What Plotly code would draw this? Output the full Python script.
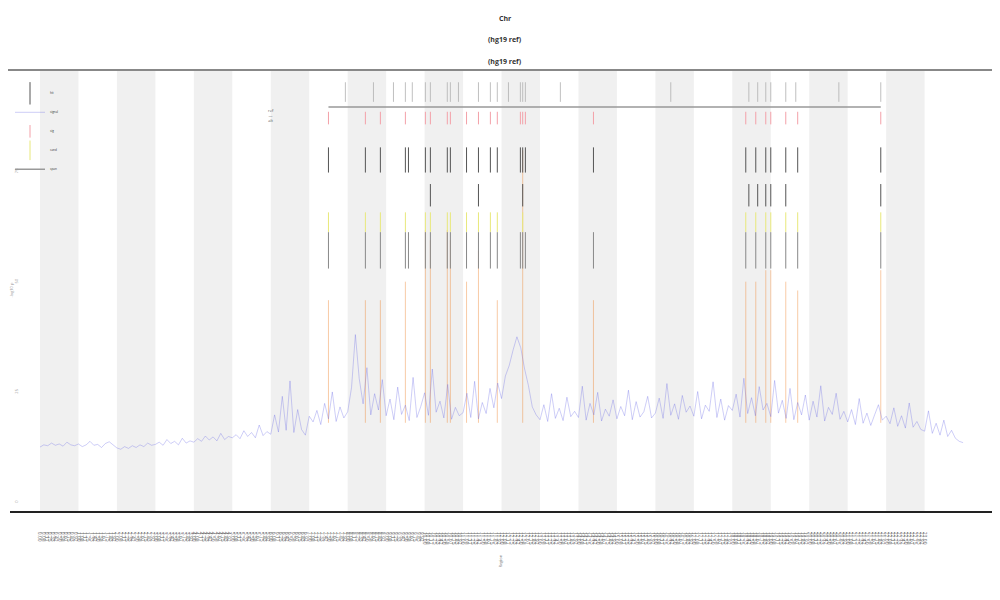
import plotly.graph_objects as go

# segment boundaries (24 segments, alternating shading on even ones)
segments = list(range(24))

# blue signal, sampled every 0.1 segment from 0 to 24
signal = [
    12.5, 13.0, 12.8, 13.4, 12.9, 13.2, 12.7, 13.6, 13.0, 12.8,
    13.2, 12.6, 13.0, 13.8, 12.9, 13.1, 12.4, 13.3, 13.7, 12.9,
    12.3, 12.0, 12.6, 12.2, 12.8, 12.4, 13.0, 12.6, 13.4, 12.9,
    13.1, 13.6, 12.9, 14.2, 13.3, 13.8, 13.0, 14.5, 13.4, 13.9,
    13.6, 14.4, 13.8, 15.0, 14.1, 14.8, 13.9, 15.6, 14.2, 14.9,
    14.6, 15.3, 14.4, 16.2, 14.9, 15.8, 14.6, 17.5, 15.1, 16.0,
    15.4, 19.8, 15.9, 24.0, 16.3, 27.5, 15.8, 21.0, 16.5, 15.2,
    19.5, 18.2, 20.8, 17.6, 22.4, 18.9, 25.0, 18.3, 21.6, 19.1,
    20.5, 26.0, 38.0, 28.0, 22.3, 30.5, 19.8, 24.6, 20.9, 27.8,
    19.6, 23.4, 18.7, 26.1, 19.9, 22.0, 18.5, 28.3, 19.2, 21.7,
    24.8, 19.7, 30.2, 20.4, 22.9, 19.1, 26.7, 18.8, 21.5, 19.6,
    20.3, 24.7, 19.2, 27.4, 18.9, 22.6, 20.1, 25.8, 21.4, 27.0,
    23.5, 28.6, 31.0, 34.5, 37.5, 35.0, 30.2, 26.4, 21.6, 19.8,
    18.7, 22.1, 18.3, 24.6, 19.0, 21.3, 18.5, 23.8, 19.4, 20.6,
    19.2, 26.3, 18.6, 22.4, 19.8, 24.9, 18.4, 21.1, 19.5, 23.2,
    18.9, 21.7, 19.6, 25.4, 18.7, 22.8, 19.3, 20.5, 24.0, 19.1,
    20.2, 23.6, 19.0, 26.9, 19.7, 22.3, 18.8, 24.2, 20.4, 21.8,
    19.5, 25.1, 18.9, 22.0, 20.6, 27.3, 19.2, 23.4, 18.6, 21.9,
    20.8, 24.5, 19.3, 28.1, 20.1, 23.7, 19.6, 26.2, 20.9, 22.4,
    19.4, 27.6, 20.2, 23.1, 19.0, 25.8, 18.7, 22.6, 19.8, 24.3,
    18.6, 22.9, 19.3, 26.4, 18.4, 21.5, 19.9, 24.7, 18.8, 20.6,
    18.2, 21.0, 17.6, 23.5, 17.9, 20.2, 17.4, 19.8, 22.1, 18.6,
    19.5, 17.8, 21.4, 17.2, 19.6, 16.8, 22.5, 17.0, 18.3, 16.5,
    16.1, 20.7, 15.6, 17.9, 15.2, 18.6, 14.9, 16.3, 14.5, 13.8,
    13.5,
]
signal_x = [i / 10 for i in range(len(signal))]

# orange peaks
peak_x = [7.50, 8.46, 8.85, 9.50, 10.02, 10.15, 10.59, 10.67, 11.09, 11.40,
          11.89, 12.55, 14.39, 18.35, 18.61, 18.87, 19.00, 19.39, 19.70, 21.86]
peak_top = [45.8, 45.8, 45.8, 50.0, 61.7, 59.4, 61.7, 59.4, 50.0, 57.0,
            45.8, 79.8, 45.8, 50.0, 50.0, 52.6, 52.6, 50.0, 48.0, 52.6]
peak_base = 18.0

# annotation tracks
label_x = [7.94, 8.67, 9.19, 9.50, 9.68, 10.02, 10.15, 10.59, 10.67, 10.88,
           11.40, 11.71, 11.89, 12.18, 12.49, 12.55, 12.62, 13.53, 16.40,
           18.43, 18.66, 18.87, 19.00, 19.39, 19.65, 20.77, 21.86]
pink_x = [7.50, 8.46, 8.85, 9.50, 10.02, 10.15, 10.59, 10.67, 11.09, 11.40,
          11.71, 11.89, 12.49, 12.55, 12.62, 14.39, 18.35, 18.61, 18.87,
          19.00, 19.39, 19.70, 21.86]
black_x = [7.50, 8.46, 8.85, 9.50, 9.58, 10.02, 10.15, 10.59, 10.67, 11.09,
           11.40, 11.71, 11.89, 12.49, 12.55, 12.62, 14.39, 18.35, 18.61,
           18.87, 19.00, 19.39, 19.70, 21.86]
second_x = [10.15, 11.40, 12.55, 18.43, 18.66, 18.87, 19.00, 19.39, 21.86]
yellow_x = [7.50, 8.46, 8.85, 9.50, 10.02, 10.15, 10.59, 10.67, 11.09, 11.40,
            11.71, 11.89, 12.55, 18.35, 18.61, 18.87, 19.00, 19.39, 19.70, 21.86]
gray_x = black_x
span = [7.50, 21.86]

fig = go.Figure()

for s in segments:
    if s % 2 == 0:
        fig.add_shape(type="rect", xref="x", yref="paper", x0=s, x1=s + 1, y0=0, y1=1,
                      fillcolor="#f0f0f0", line_width=0, layer="below")

px, py = [], []
for x, t in zip(peak_x, peak_top):
    px.extend([x, x, None])
    py.extend([peak_base, t, None])
fig.add_trace(go.Scatter(x=px, y=py, mode="lines", name="peak",
                         line=dict(color="rgba(240,140,60,0.45)", width=1),
                         hoverinfo="skip", showlegend=False))


def track(xs, y, color, size, name, legend=True, width=1):
    return go.Scatter(x=xs, y=[y] * len(xs), mode="markers", name=name,
                      marker=dict(symbol="line-ns-open", size=size, color=color,
                                  line=dict(color=color, width=width)),
                      showlegend=legend, hoverinfo="skip")


fig.add_trace(track(black_x, 77.6, "#555555", 18, "hit"))
fig.add_trace(go.Scatter(x=signal_x, y=signal, mode="lines", name="signal",
                         line=dict(color="rgba(100,100,230,0.45)", width=0.7)))
fig.add_trace(track(pink_x, 87.1, "#f3a0a8", 9, "sig"))
fig.add_trace(track(yellow_x, 63.5, "#e8e87a", 14, "cand"))
fig.add_trace(go.Scatter(x=span, y=[89.6, 89.6], mode="lines", name="span",
                         line=dict(color="#999999", width=1.5), hoverinfo="skip"))
fig.add_trace(track(label_x, 93.0, "#b0b0b0", 14, "lbl", legend=False, width=0.8))
fig.add_trace(track(second_x, 69.6, "#555555", 16, "rep", legend=False))
fig.add_trace(track(gray_x, 57.1, "#888888", 26, "ld", legend=False))

tick_vals = [i / 12 for i in range(0, 12 * 23 + 1)]
tick_text = [f"{v:.2f}" for v in tick_vals]

fig.add_shape(type="line", xref="paper", yref="paper", x0=-0.01, x1=1.01, y0=1, y1=1,
              line=dict(color="#888888", width=2))

top = 62
for yy, txt in [(4, "<b>Chr</b>"), (25, "<b>(hg19 ref)</b>"), (47, "<b>(hg19 ref)</b>")]:
    fig.add_annotation(text=txt, x=0.5, y=1 + (top - yy) / 441, xref="paper", yref="paper",
                       showarrow=False, font=dict(size=7, color="#333"))
fig.add_annotation(text="Region", x=0.495, y=-(570 - 511) / 441, xref="paper", yref="paper",
                   textangle=-90, showarrow=False, font=dict(size=4, color="#777"))
fig.add_annotation(text="-log10 p", x=-0.004, y=(511 - 290) / 441, xref="paper", yref="paper",
                   textangle=-90, showarrow=False, xanchor="left",
                   font=dict(size=4, color="#999"))
fig.add_annotation(text="ref<br>―<br>alt", x=6.0, y=(511 - 106) / 441, xref="x", yref="paper",
                   showarrow=False, font=dict(size=4, color="#555"))

fig.update_layout(
    width=1000, height=600,
    margin=dict(l=2, r=8, t=top, b=97, autoexpand=False),
    paper_bgcolor="white", plot_bgcolor="white",
    showlegend=True,
    legend=dict(x=0.0, y=0.98, xanchor="left", yanchor="top",
                font=dict(size=3, color="#333"), bgcolor="rgba(0,0,0,0)",
                itemwidth=30, tracegroupgap=0),
    xaxis=dict(range=[-0.78, 24.96], showgrid=False, zeroline=False,
               showline=True, linecolor="#222", linewidth=1.5, automargin=False,
               tickmode="array", tickvals=tick_vals, ticktext=tick_text,
               tickangle=90, tickfont=dict(size=5, color="#666"),
               ticks="", ticklabelstandoff=18),
    yaxis=dict(range=[-2, 98], showgrid=False, zeroline=False, showline=False,
               automargin=False, tickvals=[0, 25, 50, 75], tickangle=-90,
               ticklabelposition="inside",
               tickfont=dict(size=4, color="#999"), ticks=""),
)

fig.write_html("out.html")
